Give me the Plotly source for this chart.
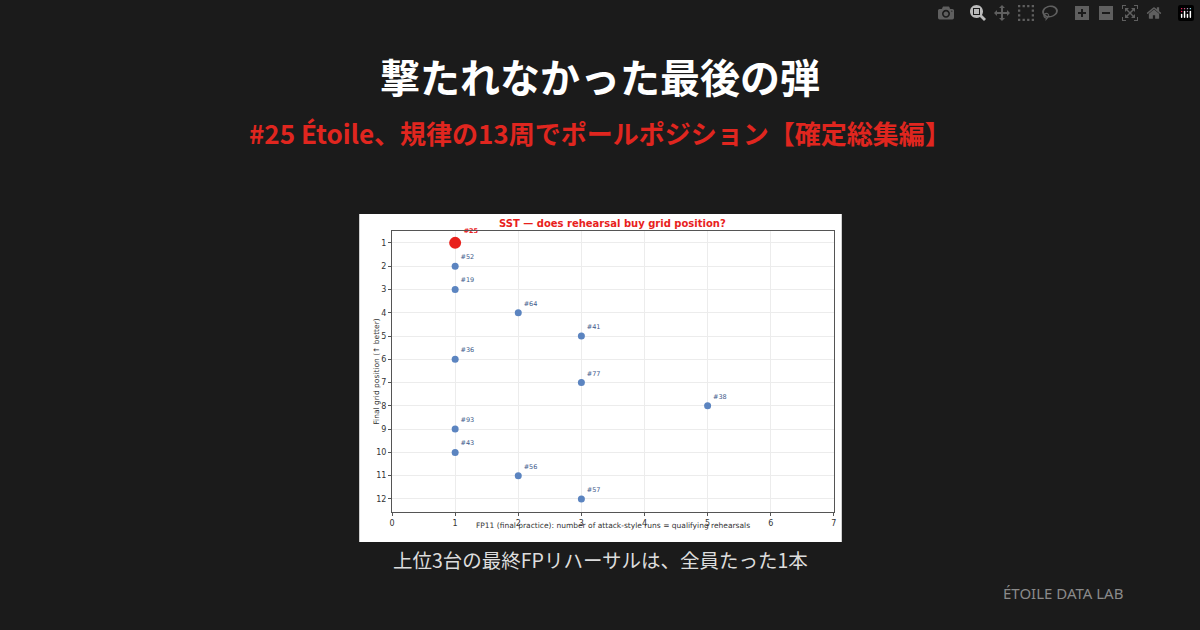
import plotly.graph_objects as go

cars = ["#25","#52","#19","#64","#41","#36","#77","#38","#93","#43","#56","#57"]
fp11_runs = [1,1,1,2,3,1,3,5,1,1,2,3]
grid_pos = [1,2,3,4,5,6,7,8,9,10,11,12]
x_ticks = [0,1,2,3,4,5,6,7]
y_ticks = list(range(1,13))

W, H = 1200, 630
FONT = "Noto Sans CJK JP"
CF = "DejaVu Sans"
colors = ["#e8211c" if c == "#25" else "#5b84c0" for c in cars]
sizes = [12 if c == "#25" else 7 for c in cars]
labels = ["<b>#25</b>" if c == "#25" else c for c in cars]

fig = go.Figure()
fig.add_trace(go.Scatter(
    x=fp11_runs, y=grid_pos, mode="markers+text", text=labels,
    textposition="top right",
    textfont=dict(size=6.5, color=["#e8211c" if c == "#25" else "#3d5a8a" for c in cars], family=CF),
    marker=dict(color=colors, size=sizes, opacity=1, line=dict(width=0)),
    cliponaxis=False, hoverinfo="skip"))

fig.update_layout(
    width=W, height=H, paper_bgcolor="#1b1b1b", plot_bgcolor="white",
    margin=dict(l=0, r=0, t=0, b=0), showlegend=False,
    xaxis=dict(domain=[391/W, 835/W], range=[0,7], tickvals=x_ticks,
               tickfont=dict(size=8, color="#333", family=CF),
               gridcolor="#ececec", zeroline=False, showline=True, linecolor="#555",
               mirror=True, ticks="outside", ticklen=3, tickcolor="#555"),
    yaxis=dict(domain=[(H-512)/H, (H-231)/H], range=[12.56, 0.49], tickvals=y_ticks,
               tickfont=dict(size=8, color="#333", family=CF),
               gridcolor="#ececec", zeroline=False, showline=True, linecolor="#555",
               mirror=True, ticks="outside", ticklen=3, tickcolor="#555"),
    shapes=[dict(type="rect", xref="paper", yref="paper", x0=358/W, x1=843/W,
                 y0=1-542/H, y1=1-214/H, fillcolor="white", line=dict(width=0), layer="below")],
    annotations=[
        dict(text="<b>撃たれなかった最後の弾</b>", x=0.5, y=1-45/H, xref="paper", yref="paper",
             showarrow=False, font=dict(size=40, color="white", family=FONT)),
        dict(text="<b>#25 Étoile、規律の13周でポールポジション【確定総集編】</b>", x=0.5, y=1-112/H,
             xref="paper", yref="paper", showarrow=False, font=dict(size=26, color="#e0261f", family=FONT)),
        dict(text="<b>SST — does rehearsal buy grid position?</b>", x=(391+835)/2/W, y=1-223/H,
             xref="paper", yref="paper", showarrow=False, font=dict(size=10, color="#e8211c", family=CF)),
        dict(text="FP11 (final practice): number of attack-style runs = qualifying rehearsals",
             x=(391+835)/2/W, y=1-532/H, xref="paper", yref="paper", showarrow=False,
             font=dict(size=7.5, color="#333", family=CF)),
        dict(text="Final grid position (↑ better)", x=368/W, y=1-372/H, xref="paper", yref="paper",
             showarrow=False, textangle=-90, font=dict(size=7.5, color="#333", family=CF)),
        dict(text="上位3台の最終FPリハーサルは、全員たった1本", x=0.5, y=1-576/H, xref="paper", yref="paper",
             showarrow=False, font=dict(size=19.5, color="#dddddd", family=FONT)),
        dict(text="ÉTOILE DATA LAB", x=1128/W, y=1-605/H, xref="paper", yref="paper", xanchor="right",
             showarrow=False, font=dict(size=15, color="#8a8a8a", family="Noto Sans")),
    ])
fig.write_html("out.html")
with open("out.html", encoding="utf-8") as f:
    html = f.read()
html = html.replace("<body>", '<body style="margin:0;background:#1b1b1b;overflow:hidden">', 1)
with open("out.html", "w", encoding="utf-8") as f:
    f.write(html)
